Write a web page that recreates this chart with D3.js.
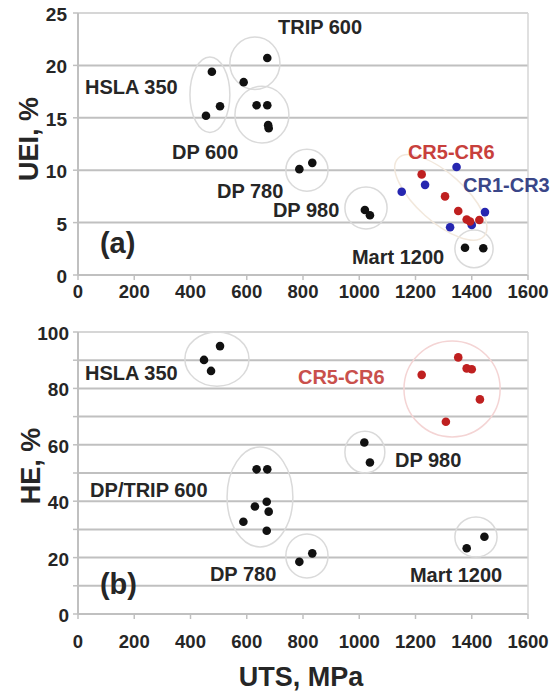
<!DOCTYPE html>
<html><head><meta charset="utf-8">
<script src="https://cdn.jsdelivr.net/npm/d3@7/dist/d3.min.js"></script>
<style>
body{margin:0;background:#fff;}
text{font-family:"Liberation Sans",Arial,sans-serif;font-weight:bold;fill:#262626;}
</style></head>
<body><svg id="c" width="557" height="698"></svg>
<script>
// ---- data ----
const xTicks = [0,200,400,600,800,1000,1200,1400,1600];
const ueiTicks = [0,5,10,15,20,25];
const heTicks = [0,20,40,60,80,100];
const heGrid = [0,10,20,30,40,50,60,70,80,90,100];

// top panel (a): [UTS, UEl]
const ueiBlack = [[476,19.4],[505,16.1],[455,15.2],[589,18.4],[673,20.7],[635,16.2],[673,16.2],[678,14.0],[676,14.3],[787,10.1],[833,10.7],[1020,6.2],[1038,5.7],[1376,2.6],[1441,2.55]];
const ueiCR13 = [[1151,7.95],[1234,8.6],[1346,10.3],[1323,4.55],[1400,4.77],[1447,6.0]];
const ueiCR56 = [[1222,9.6],[1305,7.5],[1352,6.1],[1382,5.3],[1394,5.1],[1427,5.25]];

// bottom panel (b): [UTS, HE]
const heBlack = [[505,95.0],[448,90.1],[473,86.2],[635,51.3],[673,51.3],[629,38.1],[671,39.8],[678,36.3],[588,32.7],[671,29.5],[787,18.5],[833,21.5],[1018,60.8],[1038,53.7],[1382,23.3],[1445,27.4]];
const heCR56 = [[1222,84.8],[1352,91.0],[1382,87.1],[1400,86.8],[1429,76.1],[1308,68.2]];

// annotations: [text, x(UTS), y(value), kind]
const ueiLabels = [["TRIP 600",711,23.0,"k"],["HSLA 350",25,17.3,"k"],["DP 600",334,11.1,"k"],["DP 780",494,7.35,"k"],["DP 980",693,5.53,"k"],["Mart 1200",974,1.05,"k"],["CR5-CR6",1173,11.1,"r"],["CR1-CR3",1369,7.92,"b"]];
const heLabels = [["HSLA 350",25,83.0,"k"],["DP/TRIP 600",43,41.5,"k"],["DP 780",469,11.7,"k"],["CR5-CR6",782,81.6,"r2"],["DP 980",1127,52.1,"k"],["Mart 1200",1180,11.3,"k"]];
// group ellipses: [cx, cy, rx, ry] in data units
const ueiGroups = [[469,17.2,71,3.6],[629,20.2,89,2.5],[654,15.3,96,2.7],[814,10.0,75,2.0],[1024,6.4,75,2.0],[1408,2.5,68,1.8]];
const heGroups = [[494,90.4,114,9.6],[647,41.5,117,17.7],[814,20.6,75,7.8],[1020,57.4,71,7.4],[1415,27.3,75,7.1]];
const heCRGroup = [1330,79.8,171,17.0];
const ueiCRGroup = [1290,7.4];

const svg = d3.select("#c");
const L = 78, R = 528;
const x = d3.scaleLinear().domain([0,1600]).range([L,R]);
const yTop = d3.scaleLinear().domain([0,25]).range([275,13]);
const yBot = d3.scaleLinear().domain([0,100]).range([614,332]);
const colors = {k:"#262626", r:"#c8403c", r2:"#c9504c", b:"#3a4688"};

function panel(y, grid, ticks, tickLabelY, yLabelRight){
  const g = svg.append("g");
  g.selectAll("line.grid").data(grid).join("line")
    .attr("x1",L).attr("x2",R).attr("y1",d=>y(d)).attr("y2",d=>y(d))
    .attr("stroke",(d,i)=> i===grid.length-1 ? "#d6d6d6" : "#c0c0c0").attr("stroke-width",2);
  g.append("line").attr("x1",L).attr("x2",L).attr("y1",y.range()[0]).attr("y2",y.range()[1]).attr("stroke","#c0c0c0").attr("stroke-width",2);
  g.append("line").attr("x1",R).attr("x2",R).attr("y1",y.range()[0]).attr("y2",y.range()[1]).attr("stroke","#d6d6d6").attr("stroke-width",1.5);
  // tick marks
  g.selectAll("line.yt").data(grid).join("line").attr("x1",L-5).attr("x2",L).attr("y1",d=>y(d)).attr("y2",d=>y(d)).attr("stroke","#c0c0c0").attr("stroke-width",1.5);
  g.selectAll("line.xt").data(xTicks).join("line").attr("x1",d=>x(d)).attr("x2",d=>x(d)).attr("y1",y(0)).attr("y2",y(0)+5).attr("stroke","#c0c0c0").attr("stroke-width",1.5);
  g.selectAll("text.yl").data(ticks).join("text")
    .attr("x",yLabelRight).attr("y",d=>y(d)).attr("dy","0.42em").attr("text-anchor","end").style("font-size","19px").text(d=>d);
  g.selectAll("text.xl").data(xTicks).join("text")
    .attr("x",d=>x(d)).attr("y",tickLabelY).attr("text-anchor","middle").style("font-size","18.5px").text(d=>d);
  return g;
}

const gt = panel(yTop, ueiTicks, ueiTicks, 298, 67);
const gb = panel(yBot, heGrid, heTicks, 648, 69);

function ellipses(g, y, arr, col){
  g.selectAll(null).data(arr).join("ellipse")
    .attr("cx",d=>x(d[0])).attr("cy",d=>y(d[1]))
    .attr("rx",d=>x(d[2])-x(0)).attr("ry",d=>y(0)-y(d[3]))
    .attr("fill","none").attr("stroke",col).attr("stroke-width",1.5);
}
ellipses(gt, yTop, ueiGroups, "#dadada");
ellipses(gb, yBot, heGroups, "#dadada");
ellipses(gb, yBot, [heCRGroup], "#f4d4d4");
gt.append("ellipse").attr("transform",`translate(${x(ueiCRGroup[0])},${yTop(ueiCRGroup[1])}) rotate(42)`)
  .attr("rx",58).attr("ry",24).attr("fill","none").attr("stroke","#f2e8dc").attr("stroke-width",1.5);

function dots(g, y, arr, col){
  g.selectAll(null).data(arr).join("circle")
    .attr("cx",d=>x(d[0])).attr("cy",d=>y(d[1])).attr("r",4.3).attr("fill",col);
}
dots(gt, yTop, ueiBlack, "#111");
dots(gt, yTop, ueiCR13, "#2626b0");
dots(gt, yTop, ueiCR56, "#bf2020");
dots(gb, yBot, heBlack, "#111");
dots(gb, yBot, heCR56, "#bf2020");

function labels(g, y, arr){
  g.selectAll(null).data(arr).join("text")
    .attr("x",d=>x(d[1])).attr("y",d=>y(d[2])).style("font-size","20px")
    .style("fill",d=>colors[d[3]]).text(d=>d[0]);
}
labels(gt, yTop, ueiLabels);
labels(gb, yBot, heLabels);

gt.append("text").attr("x",x(78)).attr("y",yTop(2.1)).style("font-size","29px").text("(a)");
gb.append("text").attr("x",x(78)).attr("y",yBot(7.1)).style("font-size","29px").text("(b)");

svg.append("text").attr("transform","translate(38,139) rotate(-90)").attr("text-anchor","middle").style("font-size","27px").text("UEI, %");
svg.append("text").attr("transform","translate(40,466) rotate(-90)").attr("text-anchor","middle").style("font-size","27px").text("HE, %");
svg.append("text").attr("x",301).attr("y",686).attr("text-anchor","middle").style("font-size","27px").text("UTS, MPa");
</script></body></html>
